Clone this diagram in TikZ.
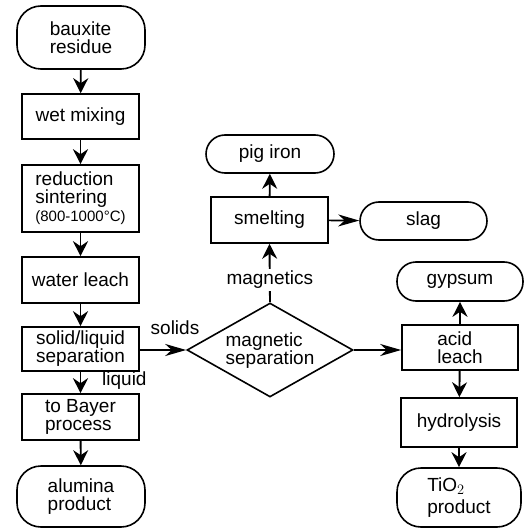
\documentclass[tikz,border=0pt]{standalone}
\usepackage{fontspec}
\setmainfont{Liberation Sans}
\usetikzlibrary{arrows.meta,shapes.geometric}
\begin{document}
\begin{tikzpicture}[x=1pt,y=-1pt,
  every node/.style={font=\fontsize{19}{18}\selectfont, inner sep=0pt, align=left},
  procbox/.style={draw, line width=1.6pt, minimum width=117pt},
  termbox/.style={draw, line width=1.6pt, rounded corners=19pt},
  decbox/.style={draw, line width=1.6pt, diamond, minimum width=166pt, minimum height=94pt, aspect=1.77},
  varr/.style={line width=1.9pt, -{Stealth[length=15pt,width=15pt,inset=5pt]}},
  harr/.style={line width=1.7pt, -{Stealth[length=21pt,width=12pt,inset=6.5pt]}},
  lbl/.style={font=\fontsize{19}{18}\selectfont}
]
\useasboundingbox (0,0) rectangle (526,529);
% left column
\node[termbox, rounded corners=24pt, minimum width=128pt, minimum height=63pt] (baux) at (81,37.5) {bauxite\\residue};
\node[procbox, minimum height=45pt] (wet) at (80.5,116.5) {wet mixing};
\node[procbox, minimum height=67pt] (red) at (80.5,198.5) {reduction\\sintering\\{\fontsize{15}{16}\selectfont (800-1000\textdegree C)}};
\node[procbox, minimum height=46pt] (water) at (80.5,280) {water leach};
\node[procbox, minimum height=44pt] (sep) at (80.5,349) {solid/liquid\\separation};
\node[procbox, minimum height=46pt] (bayer) at (80.5,417) {to Bayer\\process};
\node[termbox, rounded corners=24pt, minimum width=128pt, minimum height=61pt] (alum) at (81,496.5) {alumina\\product};
% middle
\node[termbox, minimum width=128pt, minimum height=38pt] (pig) at (270,154) {pig iron};
\node[procbox, minimum height=46pt] (smelt) at (269.5,220) {smelting};
\node[termbox, minimum width=127pt, minimum height=38pt] (slag) at (423.5,221) {slag};
\node[decbox] (mag) at (270,350) {};
\node at (270,351) {magnetic\\separation};
% right column
\node[termbox, minimum width=126pt, minimum height=39pt] (gyp) at (460,281.5) {gypsum};
\node[procbox, minimum width=116pt, minimum height=45pt] (acid) at (460,347.5) {acid\\leach};
\node[procbox, minimum width=116pt, minimum height=49pt] (hyd) at (459,422.5) {hydrolysis};
\node[termbox, rounded corners=24pt, minimum width=124pt, minimum height=59pt] (tio) at (459,497.5) {TiO$_2$\\[4pt]product};
% connectors
\draw[varr] (baux) -- (wet);
\draw[varr] (wet) -- (red);
\draw[varr] (red) -- (water);
\draw[varr] (water) -- (sep);
\draw[varr] (sep) -- (bayer);
\draw[varr] (bayer) -- (alum);
\node[lbl, anchor=west] (liq) at (102,381) {liquid};
\draw[harr] (sep.east |- mag.west) -- (mag.west);
\node[lbl] (sol) at (175,328) {solids};
\draw[varr] (mag.north) -- node[pos=0.38, fill=white, inner ysep=2pt, inner xsep=1pt, lbl] {magnetics} (smelt.south);
\draw[varr] (smelt) -- (pig);
\draw[harr] (smelt) -- (slag);
\draw[harr] (mag.east) -- (mag.east -| acid.west);
\draw[varr] (acid) -- (gyp);
\draw[varr] (acid) -- (hyd);
\draw[varr] (hyd) -- (tio);
\end{tikzpicture}
\end{document}
